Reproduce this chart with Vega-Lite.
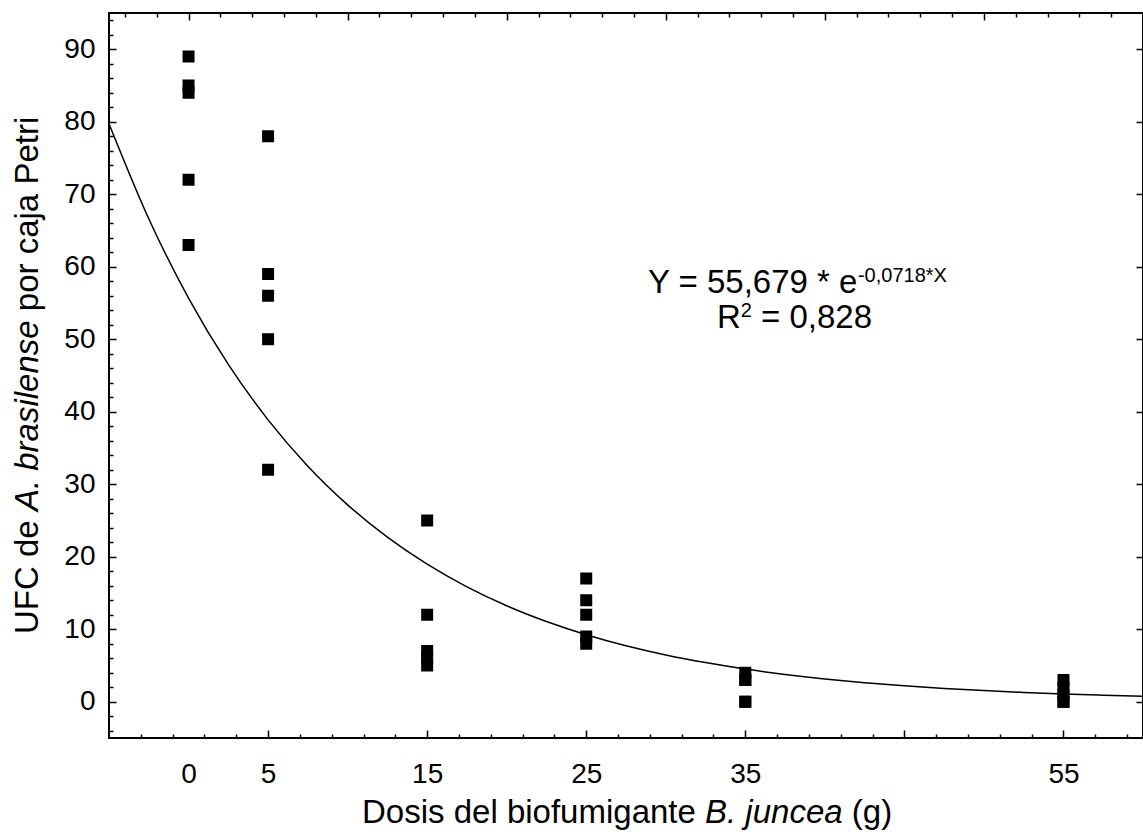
{
  "$schema": "https://vega.github.io/schema/vega-lite/v6.json",
  "width": 1034,
  "height": 725,
  "autosize": {"type": "none"},
  "padding": {"left": 109, "top": 13, "right": 0, "bottom": 102},
  "background": "white",
  "datasets": {
    "scatter": [
      {"dosis": 0, "ufc": 89}, {"dosis": 0, "ufc": 85}, {"dosis": 0, "ufc": 84}, {"dosis": 0, "ufc": 72}, {"dosis": 0, "ufc": 63},
      {"dosis": 5, "ufc": 78}, {"dosis": 5, "ufc": 59}, {"dosis": 5, "ufc": 56}, {"dosis": 5, "ufc": 50}, {"dosis": 5, "ufc": 32},
      {"dosis": 15, "ufc": 25}, {"dosis": 15, "ufc": 12}, {"dosis": 15, "ufc": 7}, {"dosis": 15, "ufc": 6}, {"dosis": 15, "ufc": 5},
      {"dosis": 25, "ufc": 17}, {"dosis": 25, "ufc": 14}, {"dosis": 25, "ufc": 12}, {"dosis": 25, "ufc": 9}, {"dosis": 25, "ufc": 8},
      {"dosis": 35, "ufc": 4}, {"dosis": 35, "ufc": 3}, {"dosis": 35, "ufc": 3}, {"dosis": 35, "ufc": 0}, {"dosis": 35, "ufc": 0},
      {"dosis": 55, "ufc": 3}, {"dosis": 55, "ufc": 2}, {"dosis": 55, "ufc": 1}, {"dosis": 55, "ufc": 0}, {"dosis": 55, "ufc": 0}
    ],
    "curve": [
      {"dosis": -5, "ufc": 79.73}, {"dosis": -2.5, "ufc": 66.62}, {"dosis": 0, "ufc": 55.68}, {"dosis": 2.5, "ufc": 46.53},
      {"dosis": 5, "ufc": 38.88}, {"dosis": 7.5, "ufc": 32.49}, {"dosis": 10, "ufc": 27.16}, {"dosis": 12.5, "ufc": 22.7},
      {"dosis": 15, "ufc": 18.97}, {"dosis": 17.5, "ufc": 15.85}, {"dosis": 20, "ufc": 13.24}, {"dosis": 22.5, "ufc": 11.07},
      {"dosis": 25, "ufc": 9.25}, {"dosis": 27.5, "ufc": 7.73}, {"dosis": 30, "ufc": 6.46}, {"dosis": 32.5, "ufc": 5.4},
      {"dosis": 35, "ufc": 4.51}, {"dosis": 37.5, "ufc": 3.77}, {"dosis": 40, "ufc": 3.15}, {"dosis": 42.5, "ufc": 2.63},
      {"dosis": 45, "ufc": 2.2}, {"dosis": 47.5, "ufc": 1.84}, {"dosis": 50, "ufc": 1.537}, {"dosis": 52.5, "ufc": 1.284},
      {"dosis": 55, "ufc": 1.073}, {"dosis": 57.5, "ufc": 0.897}, {"dosis": 60, "ufc": 0.75}
    ]
  },
  "resolve": {"axis": {"x": "independent", "y": "independent"}},
  "layer": [
    {
      "data": {"name": "curve"},
      "mark": {"type": "line", "color": "black", "strokeWidth": 1.5, "interpolate": "monotone"},
      "encoding": {
        "x": {"field": "dosis", "type": "quantitative", "scale": {"domain": [-5, 60], "nice": false, "zero": false},
              "axis": {"orient": "bottom", "values": [0, 5, 15, 25, 35, 55], "ticks": false, "domain": false, "labelPadding": 22, "labelFontSize": 28, "labelFont": "Liberation Sans", "title": null}},
        "y": {"field": "ufc", "type": "quantitative", "scale": {"domain": [-5, 95], "nice": false, "zero": false},
              "axis": {"orient": "left", "values": [0, 10, 20, 30, 40, 50, 60, 70, 80, 90], "ticks": false, "domain": false, "labelPadding": 14, "labelFontSize": 28, "labelFont": "Liberation Sans", "title": null}}
      }
    },
    {
      "data": {"name": "scatter"},
      "mark": {"type": "square", "size": 144, "color": "black", "opacity": 1},
      "encoding": {
        "x": {"field": "dosis", "type": "quantitative", "scale": {"domain": [-5, 60], "nice": false, "zero": false},
              "axis": {"orient": "bottom", "values": [5, 15, 25, 35, 45, 55], "labels": false, "domain": false, "tickSize": -8, "title": null}},
        "y": {"field": "ufc", "type": "quantitative", "scale": {"domain": [-5, 95], "nice": false, "zero": false},
              "axis": {"orient": "left", "values": [0, 10, 20, 30, 40, 50, 60, 70, 80, 90], "labels": false, "domain": false, "tickSize": -7, "title": null}}
      }
    },
    {
      "data": {"values": [{"label": "Y = 55,679 * e"}]},
      "mark": {"type": "text", "font": "Liberation Sans", "fontSize": 33, "align": "left", "baseline": "alphabetic", "color": "black"},
      "encoding": {
        "text": {"field": "label"},
        "x": {"datum": 28.88, "type": "quantitative", "scale": {"domain": [-5, 60], "nice": false, "zero": false},
              "axis": {"orient": "bottom", "values": [-3, -1, 1, 3, 7, 9, 11, 13, 17, 19, 21, 23, 27, 29, 31, 33, 37, 39, 41, 43, 47, 49, 51, 53, 57, 59], "labels": false, "domain": false, "tickSize": -4, "title": null}},
        "y": {"datum": 56.38, "type": "quantitative", "scale": {"domain": [-5, 95], "nice": false, "zero": false},
              "axis": {"orient": "left", "values": [-4, -2, 2, 4, 6, 8, 12, 14, 16, 18, 22, 24, 26, 28, 32, 34, 36, 38, 42, 44, 46, 48, 52, 54, 56, 58, 62, 64, 66, 68, 72, 74, 76, 78, 82, 84, 86, 88, 92, 94], "labels": false, "domain": false, "tickSize": -4, "title": null}}
      }
    },
    {
      "data": {"values": [{"label": "-0,0718*X"}]},
      "mark": {"type": "text", "font": "Liberation Sans", "fontSize": 20, "align": "left", "baseline": "alphabetic", "color": "black"},
      "encoding": {
        "text": {"field": "label"},
        "x": {"datum": 42.08, "type": "quantitative", "scale": {"domain": [-5, 60], "nice": false, "zero": false},
              "axis": {"orient": "top", "values": [0, 10, 20, 30, 40, 50, 60], "labels": false, "domain": false, "tickSize": -7, "title": null}},
        "y": {"datum": 57.9, "type": "quantitative", "scale": {"domain": [-5, 95], "nice": false, "zero": false},
              "axis": {"orient": "right", "values": [0, 10, 20, 30, 40, 50, 60, 70, 80, 90], "labels": false, "domain": false, "tickSize": -7, "title": null}}
      }
    },
    {
      "data": {"values": [{"label": "R"}]},
      "mark": {"type": "text", "font": "Liberation Sans", "fontSize": 33, "align": "left", "baseline": "alphabetic", "color": "black"},
      "encoding": {
        "text": {"field": "label"},
        "x": {"datum": 33.22, "type": "quantitative", "scale": {"domain": [-5, 60], "nice": false, "zero": false},
              "axis": {"orient": "top", "values": [-4, -2, 2, 4, 6, 8, 12, 14, 16, 18, 22, 24, 26, 28, 32, 34, 36, 38, 42, 44, 46, 48, 52, 54, 56, 58], "labels": false, "domain": false, "tickSize": -4, "title": null}},
        "y": {"datum": 51.55, "type": "quantitative", "scale": {"domain": [-5, 95], "nice": false, "zero": false}, "axis": null}
      }
    },
    {
      "data": {"values": [{"label": "2"}]},
      "mark": {"type": "text", "font": "Liberation Sans", "fontSize": 20, "align": "left", "baseline": "alphabetic", "color": "black"},
      "encoding": {
        "text": {"field": "label"},
        "x": {"datum": 34.71, "type": "quantitative", "axis": null},
        "y": {"datum": 53.07, "type": "quantitative", "axis": null}
      }
    },
    {
      "data": {"values": [{"label": "= 0,828"}]},
      "mark": {"type": "text", "font": "Liberation Sans", "fontSize": 33, "align": "left", "baseline": "alphabetic", "color": "black"},
      "encoding": {
        "text": {"field": "label"},
        "x": {"datum": 35.99, "type": "quantitative", "axis": null},
        "y": {"datum": 51.55, "type": "quantitative", "axis": null}
      }
    },
    {
      "data": {"values": [{"label": "Dosis del biofumigante"}]},
      "mark": {"type": "text", "font": "Liberation Sans", "fontSize": 33, "align": "left", "baseline": "alphabetic", "color": "black"},
      "encoding": {
        "text": {"field": "label"},
        "x": {"datum": 10.905, "type": "quantitative", "axis": null},
        "y": {"datum": -16.72, "type": "quantitative", "axis": null}
      }
    },
    {
      "data": {"values": [{"label": "B. juncea"}]},
      "mark": {"type": "text", "font": "Liberation Sans", "fontSize": 33, "fontStyle": "italic", "align": "left", "baseline": "alphabetic", "color": "black"},
      "encoding": {
        "text": {"field": "label"},
        "x": {"datum": 32.466, "type": "quantitative", "axis": null},
        "y": {"datum": -16.72, "type": "quantitative", "axis": null}
      }
    },
    {
      "data": {"values": [{"label": "(g)"}]},
      "mark": {"type": "text", "font": "Liberation Sans", "fontSize": 33, "align": "left", "baseline": "alphabetic", "color": "black"},
      "encoding": {
        "text": {"field": "label"},
        "x": {"datum": 41.694, "type": "quantitative", "axis": null},
        "y": {"datum": -16.72, "type": "quantitative", "axis": null}
      }
    },
    {
      "data": {"values": [{"label": "UFC de"}]},
      "mark": {"type": "text", "font": "Liberation Sans", "fontSize": 33, "angle": 270, "align": "left", "baseline": "alphabetic", "color": "black"},
      "encoding": {
        "text": {"field": "label"},
        "x": {"datum": -9.463, "type": "quantitative", "axis": null},
        "y": {"datum": 9.345, "type": "quantitative", "axis": null}
      }
    },
    {
      "data": {"values": [{"label": "A. brasilense"}]},
      "mark": {"type": "text", "font": "Liberation Sans", "fontSize": 33, "fontStyle": "italic", "angle": 270, "align": "left", "baseline": "alphabetic", "color": "black"},
      "encoding": {
        "text": {"field": "label"},
        "x": {"datum": -9.463, "type": "quantitative", "axis": null},
        "y": {"datum": 26.297, "type": "quantitative", "axis": null}
      }
    },
    {
      "data": {"values": [{"label": "por caja Petri"}]},
      "mark": {"type": "text", "font": "Liberation Sans", "fontSize": 33, "angle": 270, "align": "left", "baseline": "alphabetic", "color": "black"},
      "encoding": {
        "text": {"field": "label"},
        "x": {"datum": -9.463, "type": "quantitative", "axis": null},
        "y": {"datum": 53.87, "type": "quantitative", "axis": null}
      }
    }
  ],
  "config": {
    "view": {"stroke": "black", "strokeWidth": 2},
    "axis": {
      "grid": false,
      "labelFont": "Liberation Sans",
      "labelFontSize": 28,
      "labelColor": "black",
      "labelFlush": false,
      "labelOverlap": false,
      "tickColor": "black",
      "tickWidth": 1.5,
      "domainColor": "black"
    }
  }
}
